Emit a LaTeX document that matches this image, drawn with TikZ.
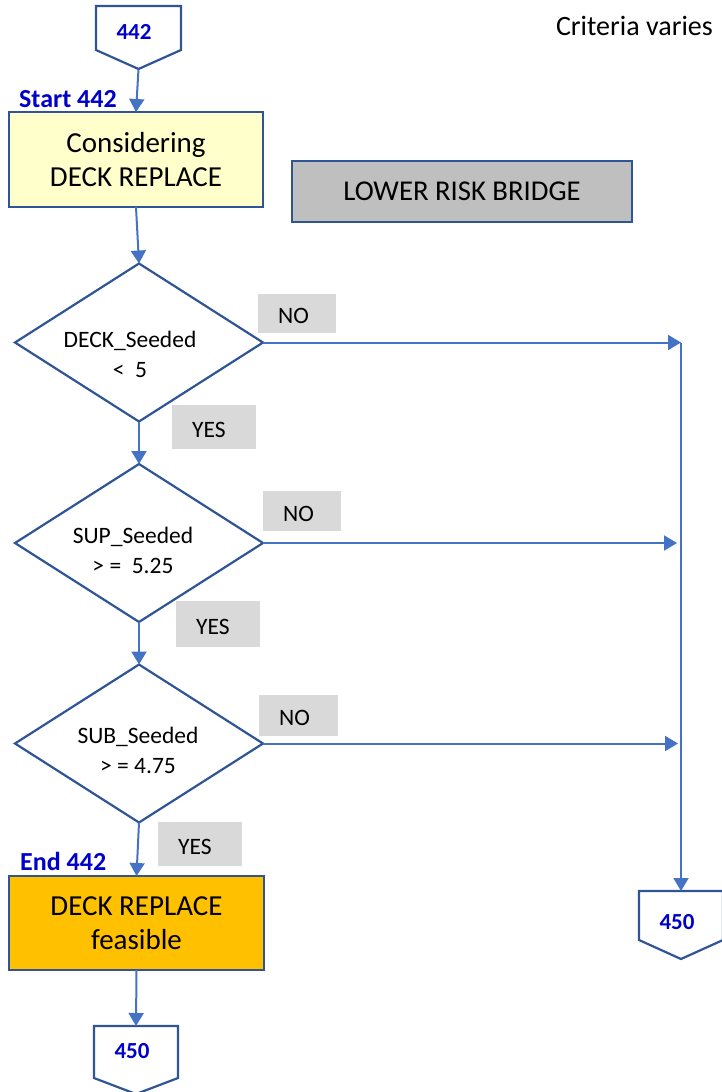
\documentclass[tikz,border=0pt]{standalone}
\usepackage{fontspec}
\setmainfont{Carlito}
\usetikzlibrary{shapes.geometric,arrows.meta}
\definecolor{conn}{HTML}{4472C4}
\definecolor{bord}{HTML}{2F5597}
\definecolor{lblblue}{HTML}{0000CC}
\definecolor{yel}{HTML}{FFFFCC}
\definecolor{org}{HTML}{FFC000}
\definecolor{gbox}{HTML}{BFBFBF}
\definecolor{glab}{HTML}{D9D9D9}
\begin{document}
\begin{tikzpicture}[x=1pt,y=-1pt,
  conline/.style={draw=conn, line width=2pt},
  arr/.style={conline, -{Triangle[length=13pt,width=15pt]}},
  procbox/.style={draw=bord, line width=2.2pt, inner sep=0pt, outer sep=0pt, align=center, font=\fontsize{29}{34}\selectfont},
  dec/.style={diamond, draw=bord, line width=2.2pt, inner sep=0pt, outer sep=0pt, minimum width=248pt, minimum height=158pt, fill=white},
  dectext/.style={align=center, inner sep=0pt, font=\fontsize{23.5}{30}\selectfont},
  answer/.style={fill=glab, anchor=north west, inner xsep=20pt, inner ysep=0pt, align=left, text height=20pt, text depth=0pt, font=\fontsize{23.5}{28}\selectfont},
  offpage/.style={draw=bord, line width=2.2pt, fill=white, line join=miter},
  pagenum/.style={inner sep=0pt, text=lblblue, font=\fontsize{23}{28}\selectfont\bfseries},
  steplabel/.style={inner sep=0pt, anchor=base west, text=lblblue, font=\fontsize{26}{30}\selectfont\bfseries}
]
\useasboundingbox (0,0) rectangle (721,1092);

% title fragment
\node[inner sep=0pt, anchor=base east, font=\fontsize{28}{32}\selectfont] (crit) at (713,35) {Criteria varies};

% off-page connector 442
\draw[offpage] (96,6) -- (181,6) -- (181,50) -- (138.5,69) -- (96,50) -- cycle;
\coordinate (c442tip) at (138.5,69);
\node[pagenum] (c442) at (134,32) {442};

% start label and first box
\node[steplabel] (start) at (19,107) {Start 442};
\node[procbox, fill=yel, minimum width=254pt, minimum height=95pt] (box1) at (136,159.5) {Considering\\DECK REPLACE};

% grey box
\node[draw=bord, line width=2.2pt, fill=gbox, inner sep=0pt, minimum width=340pt, minimum height=61pt, font=\fontsize{28.7}{32}\selectfont] (risk) at (462,191.5) {LOWER RISK BRIDGE};

% decisions
\node[dec] (d1) at (139,342.5) {};
\node[dectext] (d1t) at (130,354) {DECK\_Seeded\\<\ \ 5};
\node[dec] (d2) at (139,543) {};
\node[dectext] (d2t) at (133,550) {SUP\_Seeded\\> =\ \ 5.25};
\node[dec] (d3) at (139,743.5) {};
\node[dectext] (d3t) at (138,750) {SUB\_Seeded\\> = 4.75};

% answer labels
\node[answer, minimum width=78pt, text width=38pt, minimum height=39pt] (no1) at (258,294) {NO};
\node[answer, minimum width=84pt, text width=44pt, minimum height=44pt] (yes1) at (172,405) {YES};
\node[answer, minimum width=78pt, text width=38pt, minimum height=40pt] (no2) at (263,491) {NO};
\node[answer, minimum width=84pt, text width=44pt, minimum height=46pt] (yes2) at (176,601) {YES};
\node[answer, minimum width=79pt, text width=39pt, minimum height=41pt] (no3) at (259,695) {NO};
\node[answer, minimum width=84pt, text width=44pt, minimum height=44pt] (yes3) at (158,822) {YES};

% end label and final box
\node[steplabel] (endl) at (20,870) {End 442};
\node[procbox, fill=org, minimum width=255pt, minimum height=94pt] (box2) at (136.5,923) {DECK REPLACE\\feasible};

% off-page connector 450 (bottom)
\draw[offpage] (94,1026) -- (178,1026) -- (178,1078) -- (136,1094) -- (94,1078) -- cycle;
\coordinate (c450btop) at (136,1026);
\node[pagenum] (c450b) at (132,1051) {450};

% off-page connector 450 (right)
\draw[offpage] (639,891) -- (723,891) -- (723,940) -- (681,959) -- (639,940) -- cycle;
\coordinate (c450rtop) at (681,891);
\node[pagenum] (c450r) at (677,922) {450};

% junction points on the right
\coordinate (corner) at (681,342.5);
\coordinate (j2) at (677,543);
\coordinate (j3) at (678,743.5);

% connectors
\draw[arr] (c442tip) -- (box1.north);
\draw[arr] (box1.south) -- (d1.north);
\draw[arr] (d1.south) -- (d2.north);
\draw[arr] (d2.south) -- (d3.north);
\draw[arr] (d3.south) -- (box2.north);
\draw[arr] (box2.south) -- (c450btop);
\draw[arr] (d1.east) -- (corner);
\draw[arr] (corner) -- (c450rtop);
\draw[arr] (d2.east) -- (j2);
\draw[arr] (d3.east) -- (j3);
\end{tikzpicture}
\end{document}
